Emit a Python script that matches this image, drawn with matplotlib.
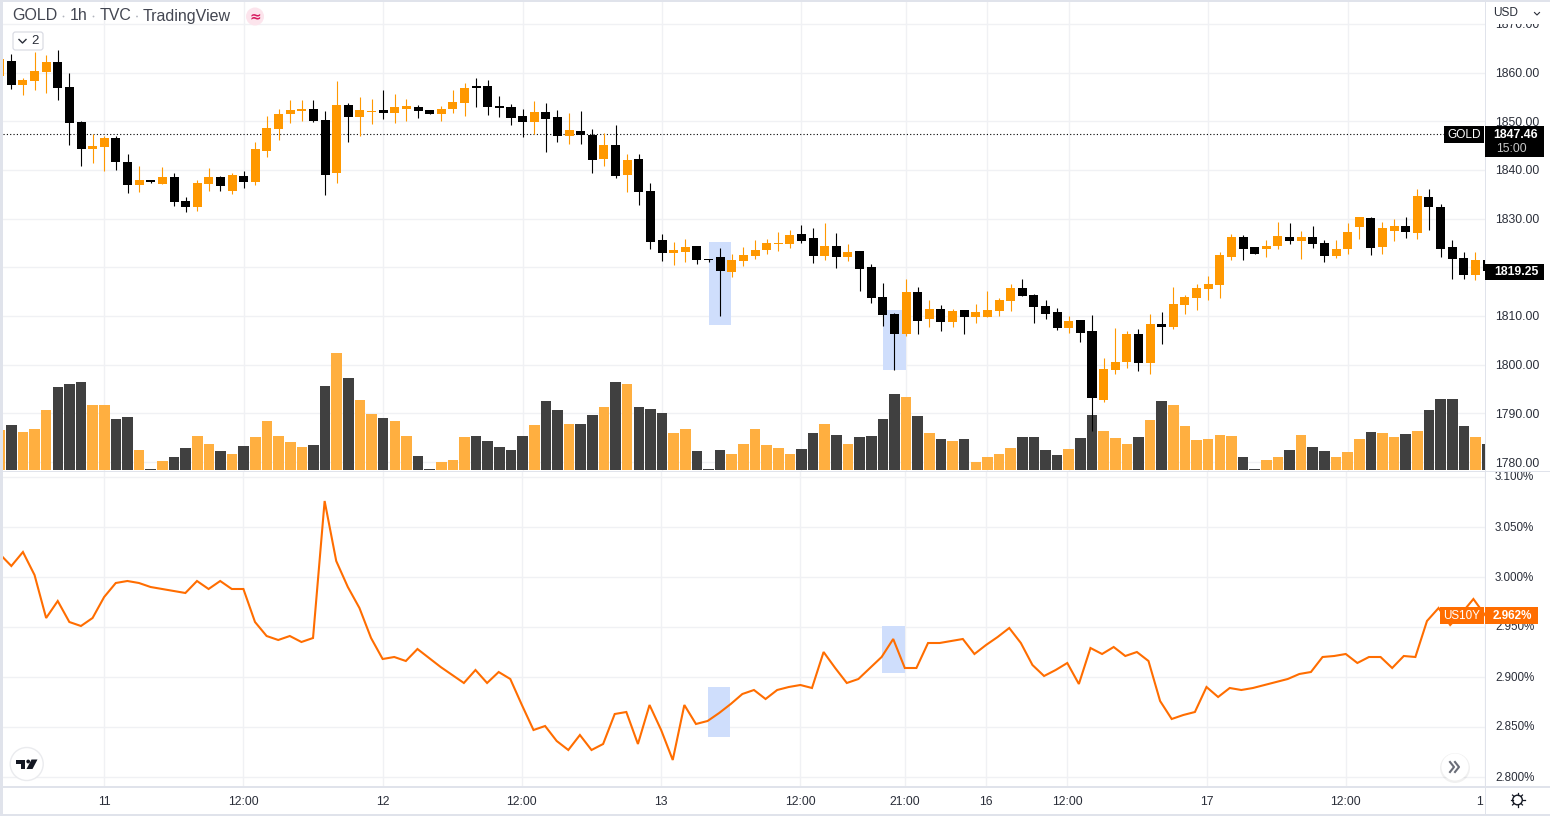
import numpy as np
import matplotlib
matplotlib.use("Agg")
import matplotlib.pyplot as plt
from matplotlib.patches import Rectangle, Circle, FancyBboxPatch, Polygon
from matplotlib.transforms import blended_transform_factory, ScaledTranslation

plt.rcParams["font.family"] = ["Liberation Sans", "DejaVu Sans"]

# hourly bars (first one is cut by the left edge)
opens = [1859.3, 1862.4, 1857.4, 1858.2, 1860.1, 1862.1, 1857.0, 1849.9, 1844.2, 1844.8,
         1846.6, 1841.7, 1836.8, 1838.0, 1837.2, 1838.6, 1833.7, 1832.3, 1837.2, 1838.6,
         1835.6, 1838.8, 1837.6, 1843.9, 1848.4, 1851.5, 1852.1, 1852.5, 1850.3, 1839.3,
         1853.3, 1850.9, 1851.9, 1852.3, 1851.7, 1852.5, 1852.9, 1852.3, 1851.5, 1852.5,
         1853.7, 1857.2, 1857.2, 1853.1, 1852.9, 1851.1, 1849.9, 1851.9, 1850.9, 1847.0,
         1848.0, 1847.2, 1842.3, 1845.2, 1839.0, 1842.3, 1835.6, 1825.6, 1822.9, 1823.1,
         1824.4, 1821.7, 1822.1, 1819.0, 1821.3, 1822.3, 1823.5, 1824.8, 1824.8, 1826.8,
         1826.0, 1822.3, 1824.4, 1822.1, 1823.3, 1820.1, 1813.9, 1810.5, 1806.4, 1815.0,
         1809.3, 1811.5, 1808.8, 1811.3, 1809.7, 1809.7, 1811.0, 1813.0, 1815.7, 1814.4,
         1812.0, 1810.8, 1807.5, 1809.1, 1806.9, 1792.7, 1798.9, 1800.5, 1806.4, 1800.3,
         1808.3, 1807.7, 1812.2, 1813.6, 1815.5, 1816.3, 1822.2, 1826.3, 1824.1, 1823.7,
         1824.3, 1826.3, 1825.3, 1826.3, 1824.9, 1822.4, 1823.7, 1828.2, 1830.2, 1824.1,
         1827.5, 1828.4, 1827.1, 1834.5, 1832.3, 1824.1, 1822.0, 1818.5, 1821.4]
highs = [1863.0, 1863.9, 1858.8, 1864.2, 1863.5, 1864.6, 1859.9, 1850.1, 1847.4, 1847.0,
         1847.0, 1843.3, 1840.7, 1838.0, 1840.5, 1839.3, 1834.4, 1838.0, 1840.3, 1838.8,
         1839.3, 1839.7, 1845.8, 1851.1, 1852.5, 1854.4, 1854.4, 1854.4, 1852.1, 1858.2,
         1853.7, 1855.0, 1854.6, 1856.4, 1855.6, 1854.6, 1853.3, 1852.3, 1853.1, 1856.4,
         1857.8, 1858.8, 1858.4, 1855.2, 1853.5, 1852.5, 1854.1, 1853.7, 1852.3, 1851.7,
         1852.1, 1848.4, 1847.6, 1849.3, 1843.3, 1843.3, 1837.4, 1826.8, 1825.2, 1825.8,
         1824.4, 1821.7, 1823.9, 1822.7, 1824.1, 1825.6, 1825.8, 1827.2, 1827.6, 1828.6,
         1828.0, 1829.0, 1827.0, 1824.8, 1823.3, 1820.7, 1816.8, 1810.7, 1817.7, 1816.0,
         1813.3, 1812.3, 1811.5, 1811.3, 1812.5, 1815.2, 1813.7, 1816.5, 1817.7, 1814.6,
         1813.2, 1811.6, 1809.9, 1809.1, 1810.3, 1801.3, 1807.5, 1806.9, 1807.3, 1810.5,
         1810.8, 1815.9, 1814.4, 1816.5, 1818.3, 1823.2, 1826.9, 1826.7, 1824.1, 1825.7,
         1829.4, 1829.0, 1827.5, 1828.4, 1825.7, 1825.7, 1829.0, 1830.4, 1830.4, 1829.2,
         1830.0, 1830.4, 1836.1, 1836.1, 1833.1, 1825.7, 1823.2, 1823.2, 1821.4]
lows = [1858.0, 1856.7, 1855.4, 1856.4, 1855.8, 1854.4, 1845.2, 1840.9, 1841.5, 1839.7,
        1839.9, 1835.2, 1835.4, 1837.4, 1837.2, 1832.5, 1831.3, 1831.5, 1835.6, 1835.6,
        1835.0, 1836.2, 1836.8, 1842.7, 1846.2, 1849.7, 1850.1, 1849.9, 1834.8, 1837.4,
        1845.8, 1847.0, 1849.5, 1850.5, 1849.7, 1850.1, 1850.7, 1851.5, 1850.1, 1851.7,
        1851.1, 1852.9, 1851.3, 1850.9, 1849.3, 1846.8, 1847.4, 1843.7, 1845.8, 1845.4,
        1845.4, 1839.3, 1840.9, 1838.4, 1835.4, 1832.7, 1823.7, 1821.3, 1820.5, 1821.1,
        1820.7, 1821.1, 1810.1, 1818.0, 1820.3, 1821.7, 1822.7, 1823.3, 1823.9, 1825.0,
        1820.9, 1821.5, 1819.9, 1821.3, 1815.2, 1812.7, 1808.0, 1799.0, 1805.8, 1806.4,
        1807.8, 1807.0, 1807.8, 1806.4, 1808.6, 1809.7, 1809.9, 1811.0, 1814.2, 1808.5,
        1809.3, 1807.1, 1806.5, 1804.6, 1786.4, 1792.3, 1798.1, 1799.3, 1798.7, 1798.1,
        1804.2, 1807.3, 1810.5, 1811.2, 1813.2, 1813.6, 1821.6, 1821.4, 1822.8, 1822.2,
        1823.7, 1824.7, 1821.8, 1823.9, 1821.0, 1822.0, 1822.8, 1825.9, 1822.6, 1822.8,
        1825.5, 1826.1, 1825.9, 1827.7, 1822.2, 1817.5, 1817.7, 1817.3, 1818.0]
closes = [1862.7, 1857.5, 1858.4, 1860.3, 1862.1, 1856.8, 1849.7, 1844.2, 1845.0, 1846.6,
          1841.7, 1836.8, 1838.0, 1837.6, 1838.6, 1833.5, 1832.3, 1837.4, 1838.6, 1836.6,
          1839.0, 1837.6, 1844.2, 1848.6, 1851.5, 1852.3, 1852.5, 1850.1, 1839.0, 1853.3,
          1850.9, 1852.3, 1852.1, 1851.7, 1852.9, 1853.1, 1852.1, 1851.5, 1852.5, 1853.9,
          1856.8, 1856.8, 1852.9, 1852.7, 1850.7, 1849.9, 1851.9, 1850.5, 1847.0, 1848.2,
          1847.2, 1842.1, 1845.2, 1838.8, 1842.1, 1835.4, 1825.2, 1822.9, 1823.5, 1824.1,
          1821.5, 1821.5, 1819.3, 1821.5, 1822.5, 1823.5, 1825.0, 1825.0, 1826.6, 1825.4,
          1822.3, 1824.4, 1822.1, 1823.1, 1819.7, 1813.7, 1810.3, 1806.4, 1815.0, 1809.0,
          1811.5, 1808.8, 1811.1, 1809.7, 1810.9, 1811.3, 1813.3, 1815.7, 1814.2, 1811.8,
          1810.5, 1807.5, 1808.9, 1806.5, 1793.1, 1799.1, 1800.5, 1806.4, 1800.3, 1808.3,
          1807.7, 1812.4, 1813.8, 1815.7, 1816.5, 1822.6, 1826.3, 1823.7, 1822.8, 1824.3,
          1826.5, 1825.3, 1826.3, 1824.7, 1822.4, 1823.7, 1827.3, 1830.4, 1823.9, 1828.0,
          1828.4, 1827.3, 1834.7, 1832.3, 1823.7, 1821.8, 1818.5, 1821.4, 1819.25]
volumes = [40, 45, 38, 41, 60, 83, 86, 88, 65, 65, 51, 53, 20, 1, 9, 13, 22, 34, 26, 19,
           16, 24, 33, 49, 34, 28, 23, 25, 84, 117, 92, 70, 56, 52, 49, 34, 14, 1, 8, 10,
           33, 34, 29, 23, 20, 34, 45, 69, 60, 46, 46, 55, 63, 88, 86, 63, 61, 57, 37, 41,
           19, 1, 20, 16, 26, 41, 25, 22, 16, 21, 37, 46, 35, 26, 33, 34, 51, 76, 73, 54,
           37, 31, 29, 31, 8, 13, 16, 22, 33, 33, 20, 15, 21, 32, 55, 39, 32, 26, 33, 50,
           69, 65, 44, 30, 31, 35, 34, 13, 1, 10, 13, 20, 35, 23, 19, 13, 18, 31, 38, 37,
           33, 36, 39, 60, 71, 71, 44, 33, 26]
us10y = [3.023, 3.011, 3.025, 3.002, 2.959, 2.976, 2.955, 2.951, 2.959, 2.980,
         2.994, 2.996, 2.994, 2.990, 2.988, 2.986, 2.984, 2.996, 2.988, 2.996,
         2.988, 2.988, 2.955, 2.941, 2.937, 2.941, 2.935, 2.939, 3.076, 3.016,
         2.990, 2.969, 2.939, 2.918, 2.920, 2.916, 2.928, 2.919, 2.910, 2.902,
         2.894, 2.907, 2.894, 2.905, 2.898, 2.872, 2.847, 2.851, 2.836, 2.827,
         2.842, 2.827, 2.833, 2.863, 2.865, 2.833, 2.872, 2.847, 2.817, 2.872,
         2.853, 2.856, 2.864, 2.873, 2.883, 2.887, 2.878, 2.887, 2.890, 2.892,
         2.889, 2.925, 2.909, 2.894, 2.898, 2.909, 2.920, 2.938, 2.909, 2.909,
         2.934, 2.934, 2.936, 2.938, 2.923, 2.932, 2.940, 2.949, 2.934, 2.912,
         2.901, 2.907, 2.914, 2.893, 2.929, 2.923, 2.930, 2.921, 2.925, 2.916,
         2.876, 2.858, 2.862, 2.865, 2.890, 2.880, 2.889, 2.887, 2.889, 2.892,
         2.895, 2.898, 2.903, 2.905, 2.920, 2.921, 2.923, 2.914, 2.920, 2.920,
         2.909, 2.921, 2.920, 2.956, 2.969, 2.952, 2.964, 2.978, 2.962]

time_ticks = [8, 20, 32, 44, 56, 68, 77, 84, 91, 103, 115, 127]
time_labels = ["11", "12:00", "12", "12:00", "13", "12:00", "21:00", "16", "12:00", "17", "12:00", "1"]
price_ticks = [1780, 1790, 1800, 1810, 1820, 1830, 1840, 1850, 1860, 1870]
yield_ticks = [2.80, 2.85, 2.90, 2.95, 3.00, 3.05, 3.10]
prev_close = 1847.46

# highlighted zones: x from, x to, low, high
gold_zones = [(60.04, 61.9, 1808.1, 1825.2), (75.0, 77.0, 1799.0, 1811.2)]
yield_zones = [(60.04, 61.9, 2.840, 2.890), (75.0, 77.0, 2.904, 2.951)]

W, H = 1550, 816
UP = "#FF9800"
DOWN = "#000000"
GRID = "#F0F1F4"
BORDER = "#E0E3EB"
TEXT = "#2A2E39"
LINE = "#FF6D00"
ZONE = "#CFDEFC"

x = np.arange(-1, len(opens) - 1)
opens, highs, lows, closes = map(np.array, (opens, highs, lows, closes))
up = closes >= opens
candle_colors = [UP if u else DOWN for u in up]
vol_colors = ["#FFAF40" if u else "#404040" for u in up]

fig = plt.figure(figsize=(W / 100, H / 100), dpi=100, facecolor="white")


def pane(left, top, right, bottom, **kw):
    return fig.add_axes([left / W, 1 - bottom / H, (right - left) / W, (bottom - top) / H], **kw)


def nudge(label, dx, dy):
    label.set_transform(label.get_transform() + ScaledTranslation(dx / 100, dy / 100, fig.dpi_scale_trans))


xlim = ((3 - 104.3) / 11.62 + 8, (1485 - 104.3) / 11.62 + 8)

# volume sits under the candles, grid goes under the volume
ax_vol = pane(3, 2, 1485, 471)
ax = pane(3, 2, 1485, 471)
ax_vol.set_zorder(1)
ax.set_zorder(2)
ax.patch.set_visible(False)

ax.set_xlim(xlim)
ax.set_ylim(1860 - (471 - 72.5) / 4.87, 1860 + (72.5 - 2) / 4.87)
ax_vol.set_xlim(xlim)
ax_vol.set_ylim(-1, 468)

grid_tr = blended_transform_factory(ax_vol.transAxes, ax.transData)
for p in price_ticks:
    ax_vol.plot([0, 1], [p, p], transform=grid_tr, color=GRID, lw=1, zorder=1)
for t in time_ticks:
    ax_vol.axvline(t, color=GRID, lw=1, zorder=1)
ax_vol.bar(x, volumes, width=0.91, color=vol_colors, zorder=2)
ax_vol.set_xticks([])
ax_vol.set_yticks([])

for x0, x1, lo, hi in gold_zones:
    ax.add_patch(Rectangle((x0, lo), x1 - x0, hi - lo, color=ZONE, lw=0, zorder=1))
ax.hlines(prev_close, xlim[0], 1444 / 11.62 - 104.3 / 11.62 + 8, color="black", lw=0.8,
          linestyles=(0, (1, 2)), zorder=2)
ax.vlines(x, lows, highs, color=candle_colors, lw=0.8, zorder=3)
ax.bar(x, np.maximum(np.abs(closes - opens), 0.2), bottom=np.minimum(opens, closes),
       width=0.775, color=candle_colors, zorder=4)
ax.set_xticks([])
ax.yaxis.tick_right()
ax.set_yticks(price_ticks)
# 1820.00 sits fully behind the last price tag
ax.set_yticklabels(["" if p == 1820 else f"{p:.2f}" for p in price_ticks])
ax.tick_params(axis="y", length=0, pad=7.5, labelsize=8.8, labelcolor=TEXT)

ax2 = pane(3, 472, 1485, 786)
ax2.set_xlim(xlim)
ax2.set_ylim(2.80 - (786 - 777) / 1000, 2.80 + (777 - 472) / 1000)
for x0, x1, lo, hi in yield_zones:
    ax2.add_patch(Rectangle((x0, lo), x1 - x0, hi - lo, color=ZONE, lw=0, zorder=1))
ax2.plot(x, us10y, color=LINE, lw=1.5, zorder=3, solid_joinstyle="miter")
ax2.grid(True, color=GRID, lw=1, zorder=0)
ax2.set_axisbelow(True)
ax2.yaxis.tick_right()
ax2.set_yticks(yield_ticks)
ax2.set_yticklabels([f"{y:.3f}%" for y in yield_ticks])
ax2.tick_params(axis="y", length=0, pad=7.2, labelsize=8.4, labelcolor=TEXT)
ax2.set_xticks(time_ticks)
ax2.set_xticklabels(time_labels)
ax2.tick_params(axis="x", length=0, pad=7, labelsize=8.8, labelcolor=TEXT)
for lab in ax2.get_yticklabels():
    nudge(lab, 0, 1)
last_lab = ax2.get_xticklabels()[-1]
last_lab.set_ha("right")
nudge(last_lab, -2, 0)
for a in (ax, ax_vol, ax2):
    for s in a.spines.values():
        s.set_visible(False)

# window chrome drawn in pixel coordinates on top of everything
ov = fig.add_axes([0, 0, 1, 1], zorder=10)
ov.set_xlim(0, W)
ov.set_ylim(H, 0)
ov.axis("off")


def rect(x0, y0, x1, y1, color, z=1):
    ov.add_patch(Rectangle((x0, y0), x1 - x0, y1 - y0, color=color, lw=0, zorder=z))


rect(0, 0, 3, H, BORDER)
rect(0, 0, W, 1.5, BORDER)
rect(0, 814, W, H, BORDER)
rect(1485, 2, 1486, 814, BORDER)
rect(3, 470.5, 1550, 472, BORDER)
rect(3, 786, 1550, 787.5, BORDER)

title_parts = [("GOLD", 12), ("1h", 70), ("TVC", 100), ("TradingView", 143)]
for part, px in title_parts:
    ov.text(px, 16, part, fontsize=11.5, color="#434651", va="center", ha="left")
for px in [63.5, 93.5, 137]:
    ov.add_patch(Circle((px, 16.5), 0.9, color="#B2B5BE", lw=0))
ov.add_patch(Circle((255, 16.5), 9, color="#FCE4EC", lw=0))
ov.text(255, 16.5, "≈", fontsize=10, color="#D81B60", va="center", ha="center", fontweight="bold",
        family="DejaVu Sans")
ov.add_patch(FancyBboxPatch((13, 32), 30, 18, boxstyle="round,pad=0,rounding_size=2.5", fc="white",
                            ec="#D6D8E0", lw=0.8))
ov.plot([19, 22.5, 26], [39.5, 43, 39.5], color=TEXT, lw=1)
ov.text(35.5, 41, "2", fontsize=9.5, color=TEXT, va="center", ha="center")

rect(1486, 1.5, W, 24, "white")
ov.text(1493, 13.5, "USD", fontsize=8.6, color=TEXT, va="center", ha="left")
ov.plot([1534.5, 1537, 1539.5], [12.5, 15, 12.5], color=TEXT, lw=0.8)

# last value tags
rect(1443.5, 126, 1484, 143, "black")
ov.text(1464, 134.5, "GOLD", fontsize=8.6, color="white", va="center", ha="center")
rect(1485, 126, 1544, 157, "black")
ov.text(1516, 135, f"{prev_close:.2f}", fontsize=8.8, color="white", va="center", ha="center", fontweight="bold")
ov.text(1496, 149, "15:00", fontsize=8.8, color="#C8C8C8", va="center", ha="left")
rect(1485, 263.5, 1544, 280, "black")
ov.text(1516, 272, f"{closes[-1]:.2f}", fontsize=8.8, color="white", va="center", ha="center", fontweight="bold")
rect(1440, 607, 1483.5, 624, LINE)
ov.text(1461.5, 616, "US10Y", fontsize=8.4, color="white", va="center", ha="center")
rect(1485, 607, 1538, 624, LINE)
ov.text(1512, 616, f"{us10y[-1]:.3f}%", fontsize=8.4, color="white", va="center", ha="center", fontweight="bold")

# TradingView badge
ov.add_patch(Circle((26.7, 764), 16.5, fc="white", ec="#EAEBEE", lw=1))
ov.add_patch(Polygon([(16, 759.5), (25, 759.5), (25, 769), (20.5, 769), (20.5, 763.5), (16, 763.5)], color="#131722", lw=0))
ov.add_patch(Circle((28.2, 761.5), 1.9, color="#131722", lw=0))
ov.add_patch(Polygon([(31.5, 759.5), (37.5, 759.5), (32.5, 769), (26.5, 769)], color="#131722", lw=0))

# scroll button
ov.add_patch(Circle((1455, 768), 15, color="#000000", alpha=0.06, lw=0))
ov.add_patch(Circle((1455, 767), 13.5, color="white", lw=0))
ov.plot([1450, 1454, 1450], [762, 767, 772], color="#6A6D78", lw=1.5)
ov.plot([1455, 1459, 1455], [762, 767, 772], color="#6A6D78", lw=1.5)

# settings icon
ov.add_patch(Circle((1517.5, 800), 4.8, fc="none", ec="#131722", lw=1))
for ang in np.arange(0, 360, 45):
    a = np.deg2rad(ang)
    ov.plot([1517.5 + 5 * np.cos(a), 1517.5 + 7 * np.cos(a)], [800 + 5 * np.sin(a), 800 + 7 * np.sin(a)],
            color="#131722", lw=0.9)

plt.savefig("out.png", dpi=100)
